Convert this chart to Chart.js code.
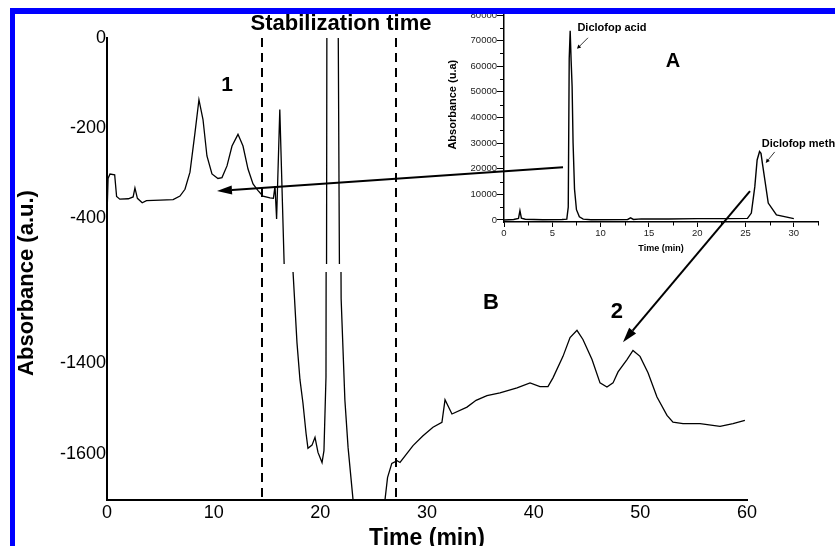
<!DOCTYPE html>
<html><head><meta charset="utf-8">
<script src="https://cdn.jsdelivr.net/npm/chart.js@4.4.1/dist/chart.umd.min.js"></script>
<style>
html,body{margin:0;padding:0;background:#fff;overflow:hidden;width:835px;height:546px;}
#wrap{position:relative;width:835px;height:546px;overflow:hidden;background:#fff;}
#insetBox{position:absolute;left:443px;top:0;width:392px;height:262px;z-index:1;}
#mainBox{position:absolute;left:0;top:0;width:835px;height:560px;z-index:2;}
.bar{position:absolute;background:#0000ff;z-index:3;}
canvas{display:block;}
</style></head><body>
<div id="wrap">
  <div id="insetBox"><canvas id="inset" width="392" height="262"></canvas></div>
  <div id="mainBox"><canvas id="main" width="835" height="560"></canvas></div>
  <div class="bar" style="left:10px;top:8px;width:825px;height:6px;"></div>
  <div class="bar" style="left:10px;top:8px;width:5px;height:538px;"></div>
</div>
<script>
// ---------- main chromatogram (B) ----------
const timeMin = [0.00,0.10,0.28,0.72,0.90,1.20,2.00,2.45,2.62,2.85,3.30,3.70,5.00,6.20,6.84,7.31,7.78,8.25,8.62,9.00,9.37,9.84,10.40,10.78,11.25,11.72,12.28,12.75,13.22,13.69,14.16,14.62,15.28,15.60,15.75,15.90,16.20,17.44,17.81,18.09,18.37,18.66,18.84,19.22,19.50,19.78,20.16,20.34,20.53,20.62,21.65,21.95,22.30,22.60,23.06,24.50,26.06,26.30,26.70,27.20,27.47,28.69,29.60,30.56,31.40,31.69,32.34,33.75,34.60,35.62,36.84,38.44,39.66,40.59,41.34,41.81,42.75,43.41,44.06,44.62,45.47,46.22,46.87,47.44,47.91,48.75,49.31,49.97,50.72,51.56,52.50,53.06,54.00,55.60,57.47,58.69,59.80];
const absorb  = [-395,-312,-302,-304,-352,-358,-357,-353,-333,-356,-366,-361,-360,-359,-351,-336,-298,-210,-137,-181,-262,-302,-312,-310,-284,-240,-214,-240,-291,-324,-339,-351,-355,-356,-329,-402,-159,-1201,-1356,-1437,-1488,-1554,-1587,-1580,-1563,-1596,-1618,-1592,-1431,150,150,-1260,-1481,-1585,-1698,-1850,-1700,-1651,-1620,-1614,-1618,-1581,-1560,-1541,-1530,-1481,-1512,-1497,-1482,-1472,-1466,-1455,-1444,-1452,-1452,-1433,-1386,-1345,-1329,-1349,-1393,-1444,-1453,-1444,-1420,-1393,-1373,-1386,-1422,-1475,-1515,-1530,-1533,-1533,-1539,-1533,-1526];
const xTicks = [0,10,20,30,40,50,60];
const upperTicks = [0,-200,-400];
const lowerTicks = [-1400,-1600];
const stabilizationLines = [14.53, 27.09];
// annotations in data coordinates of the main chart
const mainLabels = [
  {text:'1', x:11.25, y:-104, axis:'yU', size:21},
  {text:'B', x:36.0, y:-1269, axis:'yL', size:22},
  {text:'2', x:47.8, y:-1289, axis:'yL', size:22},
  {text:'Stabilization time', x:21.94, y:31, axis:'yU', size:22}
];
const mainArrows = [
  {x1:42.75, y1:-287, a1:'yU', x2:10.31, y2:-340, a2:'yU'},
  {x1:60.28, y1:-340, a1:'yU', x2:48.37, y2:-1355, a2:'yL'}
];

// ---------- inset chromatogram (A) ----------
const insetTime = [0.0,1.0,1.5,1.65,1.8,2.2,4.0,6.0,6.5,6.65,6.75,6.85,6.95,7.05,7.15,7.3,7.5,7.8,8.2,9.0,12.8,13.1,13.4,14.2,17.0,20.0,23.0,25.2,25.6,25.96,26.2,26.45,26.6,26.75,27.0,27.35,28.2,30.0];
const insetAbs  = [0,200,600,3600,700,300,100,200,300,5000,63000,73800,62000,52000,30000,12000,4000,1200,300,100,200,800,200,400,400,500,500,600,2700,13000,23400,26700,26000,22000,15600,6600,2000,500];
const insetXTicks = [0,5,10,15,20,25,30];
const insetXMinor = [2.5,7.5,12.5,17.5,22.5,27.5,32.5];
const insetYTicks = [0,10000,20000,30000,40000,50000,60000,70000,80000];
const insetYMinor = [5000,15000,25000,35000,45000,55000,65000,75000];
const insetLabels = [
  {text:'A', x:17.48, y:61700, size:20, align:'center'},
  {text:'Diclofop acid', x:11.17, y:75000, size:11, align:'center'},
  {text:'Diclofop meth', x:26.68, y:29700, size:11, align:'left'}
];
const insetArrows = [
  {x1:8.69, y1:71100, x2:7.55, y2:66800},
  {x1:28.02, y1:26560, x2:27.09, y2:22270}
];

const FONT = "'Liberation Sans', Arial, Helvetica, sans-serif";

function arrow(ctx, x1, y1, x2, y2, lw, hl, hw){
  const ang = Math.atan2(y2-y1, x2-x1);
  const bx = x2 - hl*Math.cos(ang), by = y2 - hl*Math.sin(ang);
  ctx.beginPath(); ctx.moveTo(x1,y1); ctx.lineTo(bx,by);
  ctx.lineWidth = lw; ctx.strokeStyle = '#000'; ctx.stroke();
  ctx.beginPath(); ctx.moveTo(x2,y2);
  ctx.lineTo(bx + hw*Math.sin(ang), by - hw*Math.cos(ang));
  ctx.lineTo(bx - hw*Math.sin(ang), by + hw*Math.cos(ang));
  ctx.closePath(); ctx.fillStyle = '#000'; ctx.fill();
}

const clipGaps = {yU:{top:0,bottom:5}, yL:{top:3,bottom:0}};
const mainDecor = {
  id:'mainDecor',
  beforeDatasetDraw(chart, args){
    const id = args.meta.yAxisID, s = chart.scales[id], g = clipGaps[id], ca = chart.chartArea, ctx = chart.ctx;
    ctx.save(); ctx.beginPath();
    ctx.rect(ca.left, s.top + g.top, ca.right - ca.left, s.bottom - s.top - g.top - g.bottom);
    ctx.clip();
  },
  afterDatasetDraw(chart){ chart.ctx.restore(); },
  afterDatasetsDraw(chart){
    const ctx = chart.ctx, xs = chart.scales.x, ca = chart.chartArea;
    ctx.save();
    ctx.setLineDash([9,6]); ctx.lineWidth = 2; ctx.strokeStyle = '#000';
    stabilizationLines.forEach(v => {
      const px = Math.round(xs.getPixelForValue(v));
      ctx.beginPath(); ctx.moveTo(px, ca.top); ctx.lineTo(px, ca.bottom); ctx.stroke();
    });
    ctx.restore();
    ctx.save();
    mainArrows.forEach(a => {
      arrow(ctx, xs.getPixelForValue(a.x1), chart.scales[a.a1].getPixelForValue(a.y1),
                 xs.getPixelForValue(a.x2), chart.scales[a.a2].getPixelForValue(a.y2), 2, 15, 4.5);
    });
    ctx.restore();
    ctx.save();
    ctx.fillStyle = '#000'; ctx.textAlign = 'center'; ctx.textBaseline = 'middle';
    mainLabels.forEach(l => {
      ctx.font = 'bold ' + l.size + 'px ' + FONT;
      ctx.fillText(l.text, xs.getPixelForValue(l.x), chart.scales[l.axis].getPixelForValue(l.y));
    });
    ctx.font = 'bold 22px ' + FONT;
    ctx.translate(27, (ca.top + ca.bottom)/2 + 14);
    ctx.rotate(-Math.PI/2);
    ctx.fillText('Absorbance (a.u.)', 0, 0);
    ctx.restore();
  }
};

const tickFont = {family:FONT, size:18};
const mainPoints = timeMin.map((t,i) => ({x:t, y:absorb[i]}));
const lineStyle = {borderColor:'#000', borderWidth:1.3, pointRadius:0, tension:0, fill:false};

new Chart(document.getElementById('main'), {
  type:'line',
  data:{datasets:[
    Object.assign({data:mainPoints, yAxisID:'yU'}, lineStyle),
    Object.assign({data:mainPoints, yAxisID:'yL'}, lineStyle)
  ]},
  options:{
    responsive:false, animation:false, devicePixelRatio:1,
    layout:{padding:{left:0, top:38, right:88, bottom:0}},
    plugins:{legend:{display:false}, tooltip:{enabled:false}},
    scales:{
      x:{type:'linear', position:'bottom', min:0, max:60,
         afterBuildTicks(s){ s.ticks = xTicks.map(v => ({value:v})); },
         ticks:{color:'#000', font:tickFont, padding:2, maxRotation:0, callback:v => String(v)},
         grid:{display:false, drawTicks:false},
         border:{color:'#000', width:2},
         title:{display:true, text:'Time (min)', color:'#000', font:{family:FONT, size:23, weight:'bold'}, padding:{top:0, bottom:8}},
         afterFit(s){ s.height = 60; }},
      yL:{type:'linear', position:'left', stack:'y', stackWeight:1, min:-1700, max:-1195,
         afterBuildTicks(s){ s.ticks = lowerTicks.map(v => ({value:v})); },
         ticks:{color:'#000', font:tickFont, padding:1, callback:v => String(v)},
         grid:{display:false, drawTicks:false},
         border:{color:'#000', width:2},
         afterFit(s){ s.width = 107; }},
      yU:{type:'linear', position:'left', stack:'y', stackWeight:1, min:-513, max:0,
         afterBuildTicks(s){ s.ticks = upperTicks.map(v => ({value:v})); },
         ticks:{color:'#000', font:tickFont, padding:1, callback:v => String(v)},
         grid:{display:false, drawTicks:false},
         border:{color:'#000', width:2},
         afterFit(s){ s.width = 107; }}
    }
  },
  plugins:[mainDecor]
});

// ---------- inset chart ----------
const insetDecor = {
  id:'insetDecor',
  afterDraw(chart){
    const ctx = chart.ctx, xs = chart.scales.x, ys = chart.scales.y, ca = chart.chartArea;
    ctx.save();
    ctx.strokeStyle = '#000'; ctx.lineWidth = 1;
    insetYMinor.forEach(v => { const py = Math.round(ys.getPixelForValue(v)) + 0.5;
      ctx.beginPath(); ctx.moveTo(ca.left - 4, py); ctx.lineTo(ca.left, py); ctx.stroke(); });
    insetXMinor.forEach(v => { const px = Math.round(xs.getPixelForValue(v)) + 0.5;
      ctx.beginPath(); ctx.moveTo(px, ca.bottom); ctx.lineTo(px, ca.bottom + 3.5); ctx.stroke(); });
    insetArrows.forEach(a => arrow(ctx, xs.getPixelForValue(a.x1), ys.getPixelForValue(a.y1),
                                        xs.getPixelForValue(a.x2), ys.getPixelForValue(a.y2), 0.8, 4, 2));
    ctx.fillStyle = '#000'; ctx.textBaseline = 'middle';
    insetLabels.forEach(l => {
      ctx.font = 'bold ' + l.size + 'px ' + FONT; ctx.textAlign = l.align;
      ctx.fillText(l.text, xs.getPixelForValue(l.x), ys.getPixelForValue(l.y));
    });
    ctx.font = 'bold 11px ' + FONT; ctx.textAlign = 'center';
    ctx.translate(ys.left + 10, ys.getPixelForValue(45000));
    ctx.rotate(-Math.PI/2);
    ctx.fillText('Absorbance (u.a)', 0, 0);
    ctx.restore();
  }
};
const insetTickFont = {family:FONT, size:9.5};
new Chart(document.getElementById('inset'), {
  type:'line',
  data:{datasets:[{data:insetTime.map((t,i) => ({x:t, y:insetAbs[i]})), borderColor:'#000', borderWidth:1.4, pointRadius:0, tension:0, fill:false}]},
  options:{
    responsive:false, animation:false, devicePixelRatio:1,
    layout:{padding:{left:0, top:15, right:17, bottom:0}},
    plugins:{legend:{display:false}, tooltip:{enabled:false}},
    scales:{
      x:{type:'linear', min:0, max:32.5,
         afterBuildTicks(s){ s.ticks = insetXTicks.map(v => ({value:v})); },
         ticks:{color:'#222', font:insetTickFont, padding:1, maxRotation:0, callback:v => String(v)},
         grid:{display:true, drawOnChartArea:false, tickLength:5, color:'#000', tickColor:'#000'},
         border:{color:'#000', width:1.5},
         title:{display:true, text:'Time (min)', color:'#000', font:{family:FONT, size:9, weight:'bold'}, padding:{top:0, bottom:8}},
         afterFit(s){ s.height = 40; }},
      y:{type:'linear', min:-800, max:80000,
         afterBuildTicks(s){ s.ticks = insetYTicks.map(v => ({value:v})); },
         ticks:{color:'#222', font:insetTickFont, padding:0, callback:v => String(v)},
         grid:{display:true, drawOnChartArea:false, tickLength:7, color:'#000', tickColor:'#000'},
         border:{color:'#000', width:1.5},
         afterFit(s){ s.width = 61; }}
    }
  },
  plugins:[insetDecor]
});
</script>
</body></html>
